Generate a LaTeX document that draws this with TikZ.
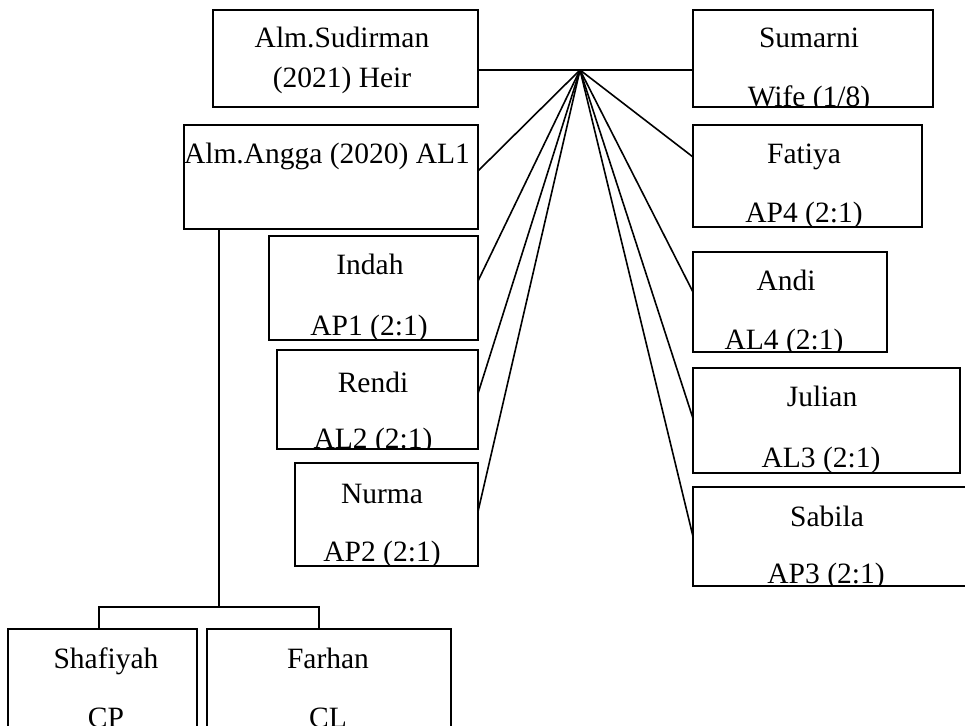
\documentclass[tikz,border=0pt]{standalone}
\usepackage{fontspec}
\setmainfont{Liberation Serif}
\begin{document}
\begin{tikzpicture}[x=1pt,y=-1pt,
  boxst/.style={draw=black, line width=1.8pt, rectangle, inner sep=0pt, outer sep=0pt, fill=white},
  lbl/.style={inner sep=0pt, outer sep=0pt, text=black, font=\fontsize{29.5}{35}\selectfont},
  conn/.style={draw=black, line width=1.6pt}]
\newcommand\mybox[5]{\node[boxst, minimum width={#4-#2}, minimum height={#5-#3}] (#1) at ({(#2+#4)/2},{(#3+#5)/2}) {};}
\newcommand\mytext[5]{\begin{scope}\clip (#1.south west) rectangle (#1.north east);\node[lbl, anchor=base] (#2) at (#3,#4) {#5};\end{scope}}
\useasboundingbox (0,0) rectangle (965,725);
\clip (0,0) rectangle (965,725);
\fill[white] (0,0) rectangle (965,725);
% boxes
\mybox{sud}{213}{10}{478}{107}
\mybox{sum}{693}{10}{933}{107}
\mybox{angga}{184}{125}{478}{229}
\mybox{fatiya}{693}{125}{922}{227}
\mybox{indah}{269}{236}{478}{340}
\mybox{rendi}{277}{350}{478}{449}
\mybox{nurma}{295}{463}{478}{566}
\mybox{andi}{693}{252}{887}{352}
\mybox{julian}{693}{368}{960}{473}
\mybox{sabila}{693}{487}{967}{586}
\mybox{shaf}{8}{629}{197}{770}
\mybox{farhan}{207}{629}{451}{770}
% texts
\mytext{sud}{tsud1}{342}{48}{Alm.Sudirman}
\mytext{sud}{tsud2}{342}{87}{(2021) Heir}
\mytext{sum}{tsum1}{809}{48}{Sumarni}
\mytext{sum}{tsum2}{809}{106}{Wife (1/8)}
\mytext{angga}{tang}{327}{163}{Alm.Angga (2020) AL1}
\mytext{fatiya}{tfat1}{804}{163}{Fatiya}
\mytext{fatiya}{tfat2}{804}{222}{AP4 (2:1)}
\mytext{indah}{tind1}{370}{274}{Indah}
\mytext{indah}{tind2}{369}{335}{AP1 (2:1)}
\mytext{rendi}{tren1}{373}{392}{Rendi}
\mytext{rendi}{tren2}{373}{448}{AL2 (2:1)}
\mytext{nurma}{tnur1}{382}{503}{Nurma}
\mytext{nurma}{tnur2}{382}{561}{AP2 (2:1)}
\mytext{andi}{tand1}{786}{290}{Andi}
\mytext{andi}{tand2}{784}{349}{AL4 (2:1)}
\mytext{julian}{tjul1}{822}{406}{Julian}
\mytext{julian}{tjul2}{821}{467}{AL3 (2:1)}
\mytext{sabila}{tsab1}{827}{526}{Sabila}
\mytext{sabila}{tsab2}{826}{583}{AP3 (2:1)}
\mytext{shaf}{tsha1}{106}{668}{Shafiyah}
\mytext{shaf}{tsha2}{106}{727}{CP}
\mytext{farhan}{tfar1}{328}{668}{Farhan}
\mytext{farhan}{tfar2}{328}{727}{CL}
% hub connectors
\coordinate (hub) at (580,70);
\draw[conn] (sud.east |- hub) -- (hub) -- (sum.west |- hub);
\draw[conn] (hub) -- ([yshift=6pt]angga.east);
\draw[conn] (hub) -- ([yshift=7pt]indah.east);
\draw[conn] (hub) -- ([yshift=6pt]rendi.east);
\draw[conn] (hub) -- ([yshift=3pt]nurma.east);
\draw[conn] (hub) -- ([yshift=19pt]fatiya.west);
\draw[conn] (hub) -- ([yshift=10pt]andi.west);
\draw[conn] (hub) -- ([yshift=2pt]julian.west);
\draw[conn] (hub) -- (sabila.west);
% children of Angga
\coordinate (j) at (219,607);
\coordinate (cl) at (99,607);
\coordinate (cr) at (319,607);
\draw[conn] (j |- angga.south) -- (j);
\draw[conn] (shaf.north -| cl) -- (cl) -- (cr) -- (farhan.north -| cr);
\end{tikzpicture}
\end{document}
